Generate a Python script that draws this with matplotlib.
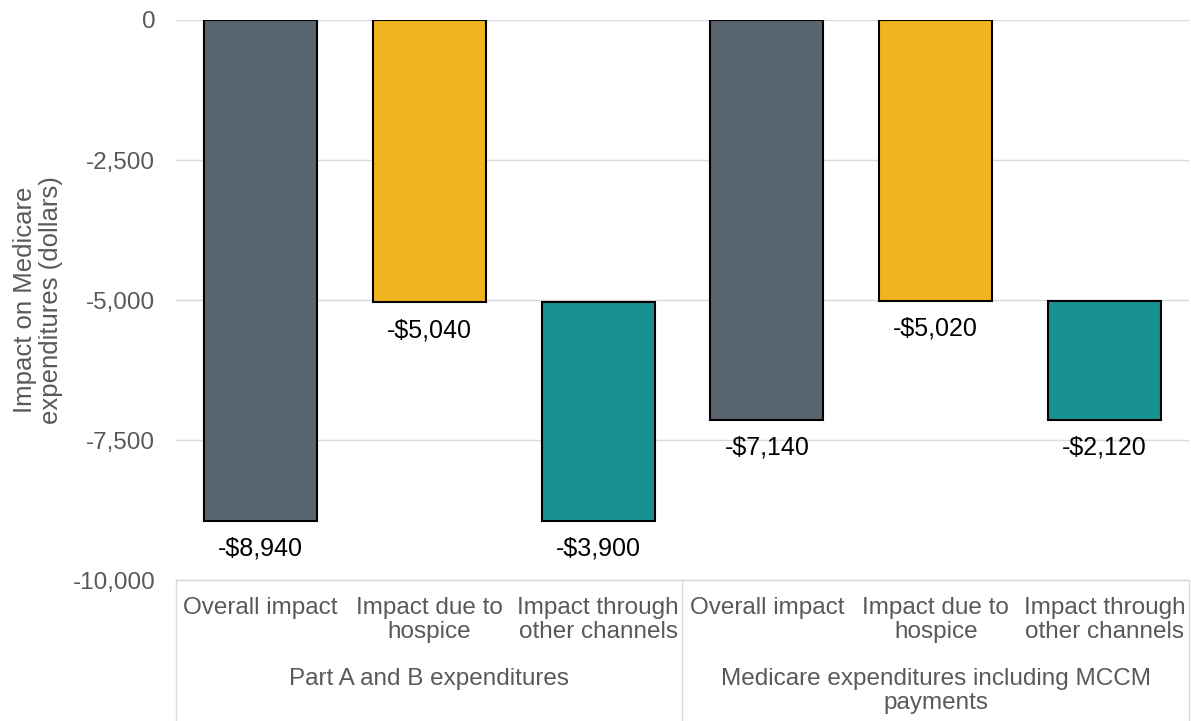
import matplotlib.pyplot as plt
import numpy as np

plt.rcParams['font.family'] = ['Liberation Sans', 'DejaVu Sans']

# Data
groups = ['Part A and B expenditures', 'Medicare expenditures including MCCM\npayments']
categories = ['Overall impact', 'Impact due to\nhospice', 'Impact through\nother channels']
overall = [-8940, -7140]
hospice = [-5040, -5020]
other = [-3900, -2120]

colors = ['#59656f', '#f0b41f', '#179290']
gray = '#595959'

fig = plt.figure(figsize=(11.91, 7.21), dpi=100)
ax = fig.add_axes([176 / 1191, 1 - 580 / 721, 1013 / 1191, 560 / 721])

x = np.arange(6)
bottoms = []
heights = []
labels = []
for g in range(2):
    # overall bar from zero, hospice bar from zero, other channels floats below hospice
    bottoms += [0, 0, hospice[g]]
    heights += [overall[g], hospice[g], other[g]]
    labels += [overall[g], hospice[g], other[g]]

bar_colors = colors * 2
ax.bar(x, heights, bottom=bottoms, width=0.67, color=bar_colors,
       edgecolor='black', linewidth=1.5, zorder=3)

for xi, b, h, v in zip(x, bottoms, heights, labels):
    ax.annotate('-${:,}'.format(abs(v)), (xi, b + h), xytext=(0, -20),
                textcoords='offset points', ha='center', va='center',
                fontsize=18, color='black')

ax.set_xlim(-0.5, 5.5)
ax.set_ylim(-10000, 0)
ax.set_yticks([0, -2500, -5000, -7500, -10000])
ax.set_yticklabels(['0', '-2,500', '-5,000', '-7,500', '-10,000'])
ax.tick_params(axis='y', length=0, labelsize=17.5, labelcolor=gray, pad=15)
ax.tick_params(axis='x', length=0, labelbottom=False)
ax.grid(axis='y', color='#d9d9d9', linewidth=1, zorder=0)
for s in ax.spines.values():
    s.set_visible(False)

fig.text(38 / 1191, 1 - 300 / 721, 'Impact on Medicare\nexpenditures (dollars)',
         rotation=90, ha='center', va='center', fontsize=18.5, color=gray,
         linespacing=1.1)

# Multi-level category axis
tr = ax.get_xaxis_transform()
ax.plot([-0.5, 5.5], [0, 0], transform=tr, color='#d9d9d9', lw=1, clip_on=False)
for xv in [-0.5, 2.5, 5.5]:
    ax.plot([xv, xv], [0, -141 / 560], transform=tr, color='#d9d9d9', lw=1,
            clip_on=False)

for i in range(6):
    ax.text(x[i], -17 / 560, categories[i % 3], transform=tr, ha='center',
            va='top', fontsize=17.5, color=gray, linespacing=1.1)

for g in range(2):
    ax.text(3 * g + 1, -88 / 560, groups[g], transform=tr, ha='center',
            va='top', fontsize=17.5, color=gray, linespacing=1.1)

fig.savefig('out.png', dpi=100)
